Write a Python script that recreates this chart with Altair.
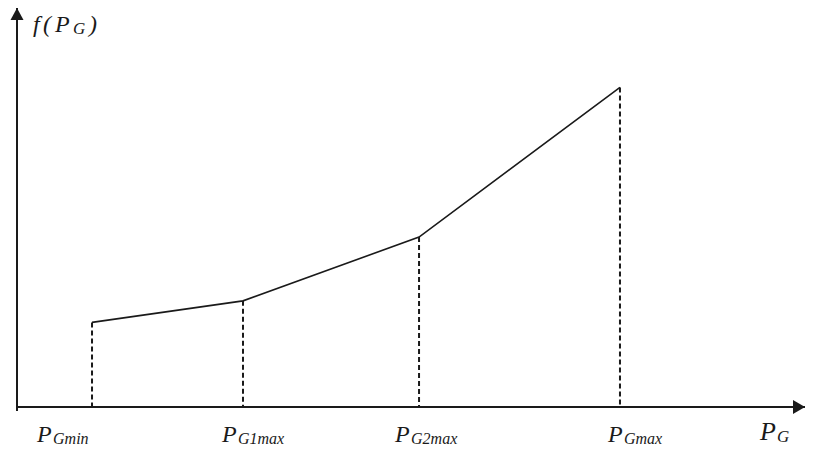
import altair as alt
import pandas as pd

# ---- data (arbitrary units) ----
breakpoints = ["PGmin", "PG1max", "PG2max", "PGmax"]
pg_values = [9.52, 28.68, 51.02, 76.52]      # generation levels
cost_values = [21.2, 26.6, 42.6, 80.1]       # f(PG) at each breakpoint
sub_labels = ["Gmin", "G1max", "G2max", "Gmax"]
axis_end = [100, 100]                         # x-axis end, y-axis end

# ---- layout ----
W, H = 798, 438
FONT = "Liberation Serif"
INK = "#1a1a1a"
label_dx = [-55, -21, -24, -12]               # pixel offsets of tick labels
SUB_DX = 16

x_scale = alt.Scale(domain=[-9 / 7.88, (W - 9) / 7.88], nice=False, zero=False)
y_scale = alt.Scale(domain=[-(H - 399) / 3.99, 100], nice=False, zero=False)

df = pd.DataFrame({"pg": pg_values, "cost": cost_values, "zero": 0,
                   "name": breakpoints, "sub": sub_labels})

X = lambda f: alt.X(f, scale=x_scale, axis=None)
Y = lambda f: alt.Y(f, scale=y_scale, axis=None)

base = alt.Chart(df)

line = base.mark_line(color=INK, strokeWidth=1.6).encode(x=X("pg:Q"), y=Y("cost:Q"))
drops = base.mark_rule(color=INK, strokeWidth=2, strokeDash=[5, 3]).encode(
    x=X("pg:Q"), y=Y("cost:Q"), y2="zero:Q")

axes_df = pd.DataFrame({"x0": [0, 0], "x1": [axis_end[0], 0],
                        "y0": [0, -1], "y1": [0, axis_end[1]]})
axes = alt.Chart(axes_df).mark_rule(color=INK, strokeWidth=2).encode(
    x=X("x0:Q"), x2="x1:Q", y=Y("y0:Q"), y2="y1:Q")

up_arrow = alt.Chart(pd.DataFrame({"x": [0], "y": [axis_end[1]]})).mark_point(
    shape="M 0 0 L 0.8125 1.5 L -0.8125 1.5 Z", size=256, filled=True,
    fill=INK, opacity=1).encode(x=X("x:Q"), y=Y("y:Q"))
right_arrow = alt.Chart(pd.DataFrame({"x": [axis_end[0]], "y": [0]})).mark_point(
    shape="M 0 0 L -1.5 -0.875 L -1.5 0.875 Z", size=256, filled=True,
    fill=INK, opacity=1).encode(x=X("x:Q"), y=Y("y:Q"))

layers = [axes, drops, line, up_arrow, right_arrow]

# tick labels P_{G...}
for i in range(len(breakpoints)):
    row = alt.Chart(df.iloc[[i]])
    layers.append(row.mark_text(text="P", font=FONT, fontStyle="italic", fontSize=24,
                                align="left", baseline="alphabetic", dx=label_dx[i],
                                color=INK).encode(x=X("pg:Q"), y=alt.value(434)))
    layers.append(row.mark_text(font=FONT, fontStyle="italic", fontSize=16,
                                align="left", baseline="alphabetic", dx=label_dx[i] + SUB_DX,
                                color=INK).encode(x=X("pg:Q"), y=alt.value(435.5),
                                                  text="sub:N"))

def txt(s, x, y, size):
    return alt.Chart(pd.DataFrame({"t": [s]})).mark_text(
        font=FONT, fontStyle="italic", fontSize=size, align="left",
        baseline="alphabetic", color=INK).encode(
        x=alt.value(x), y=alt.value(y), text="t:N")

# axis titles
layers += [txt("f", 25, 24, 24), txt("(", 35, 24, 24), txt("P", 47, 24, 24),
           txt("G", 65, 25.5, 17), txt(")", 81, 24, 24),
           txt("P", 752, 432, 26), txt("G", 769, 433.5, 17)]

chart = alt.layer(*layers).properties(
    width=W, height=H, padding=0, background="white",
    autosize=alt.AutoSizeParams(type="none")
).configure_view(stroke=None, strokeWidth=0)

chart.save("out.html", embed_options={"renderer": "svg", "actions": False})
